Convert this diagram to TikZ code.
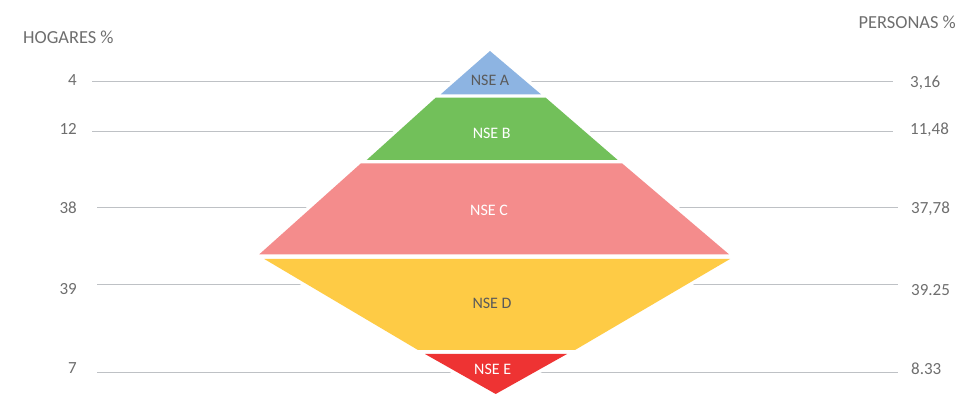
\documentclass[tikz,border=0pt]{standalone}
\usepackage{fontspec}
\setmainfont{Carlito}
\usetikzlibrary{positioning}
\definecolor{nseA}{HTML}{8DB4E2}
\definecolor{nseB}{HTML}{72C05A}
\definecolor{nseC}{HTML}{F48C8C}
\definecolor{nseD}{HTML}{FECB45}
\definecolor{nseE}{HTML}{EE3333}
\definecolor{gridgray}{HTML}{BEC1C5}
\definecolor{txtgray}{HTML}{6E6E6E}
\definecolor{darkgray}{HTML}{5A5A5A}

\begin{document}
\begin{tikzpicture}[x=1pt,y=-1pt,
            gridline/.style={draw=gridgray,line width=1.3pt},
            num/.style={text=txtgray,font=\fontsize{17}{20}\selectfont,inner sep=0pt},
            head/.style={num,font=\fontsize{18.4}{22}\selectfont},
            halo/.style={draw=white,fill=white,line width=7pt,line join=round},
            lbl/.style={font=\fontsize{16}{19}\selectfont,inner sep=0pt,anchor=base}]

            \useasboundingbox (0,0) rectangle (959,395);

            % headings
            \node[head,anchor=base west] (hogares) at (23,43.3) {HOGARES \%};
            \node[head,anchor=base east] (personas) at (956,28.3) {PERSONAS \%};

            % left values
            \node[num,anchor=base east] (hA) at (77,86) {4};
            \node[num,anchor=base east] (hB) at (77,134.3) {12};
            \node[num,anchor=base east] (hC) at (77,213.3) {38};
            \node[num,anchor=base east] (hD) at (77,294.3) {39};
            \node[num,anchor=base east] (hE) at (77,373.3) {7};

            % right values
            \node[num,anchor=base west] (pA) at (910,87.3) {3,16};
            \node[num,anchor=base west] (pB) at (910,135) {11,48};
            \node[num,anchor=base west] (pC) at (911,213.3) {37,78};
            \node[num,anchor=base west] (pD) at (911,295.7) {39.25};
            \node[num,anchor=base west] (pE) at (911,374) {8.33};

            % grid lines
            \coordinate (lA) at (92,81.7);   \coordinate (rA) at (893,81.7);
            \coordinate (lB) at (92,131.7);  \coordinate (rB) at (893,131.7);
            \coordinate (lC) at (97,207.3);  \coordinate (rC) at (898,207.3);
            \coordinate (lD) at (97,284.3);  \coordinate (rD) at (898,284.3);
            \coordinate (lE) at (97,372.7);  \coordinate (rE) at (898,372.7);
            \foreach \k in {A,B,C,D,E}
               \draw[gridline] (l\k) -- (r\k);

            % white halo behind the layers
            \path[halo] (490,51) -- (541,94.3) -- (440.7,94.3) -- cycle;
            \path[halo] (435.7,97.7) -- (545.7,97.7) -- (617.7,160) -- (366.7,160) -- cycle;
            \path[halo] (361,163.3) -- (622,163.3) -- (729,254.3) -- (259.3,254.3) -- cycle;
            \path[halo] (264.3,259) -- (730,259) -- (575,350) -- (418,350) -- cycle;
            \path[halo] (425,354) -- (567,354) -- (495.7,394) -- cycle;

            % layers
            \fill[nseA] (490,51) -- (541,94.3) -- (440.7,94.3) -- cycle;
            \fill[nseB] (435.7,97.7) -- (545.7,97.7) -- (617.7,160) -- (366.7,160) -- cycle;
            \fill[nseC] (361,163.3) -- (622,163.3) -- (729,254.3) -- (259.3,254.3) -- cycle;
            \fill[nseD] (264.3,259) -- (730,259) -- (575,350) -- (418,350) -- cycle;
            \fill[nseE] (425,354) -- (567,354) -- (495.7,394) -- cycle;

            \node[lbl,text=darkgray] (nseA) at (490,86) {NSE A};
            \node[lbl,text=white] (nseB) at (491.7,138.3) {NSE B};
            \node[lbl,text=white] (nseC) at (489,216) {NSE C};
            \node[lbl,text=darkgray] (nseD) at (492,308.3) {NSE D};
            \node[lbl,text=white] (nseE) at (492.7,375) {NSE E};
\end{tikzpicture}
\end{document}
